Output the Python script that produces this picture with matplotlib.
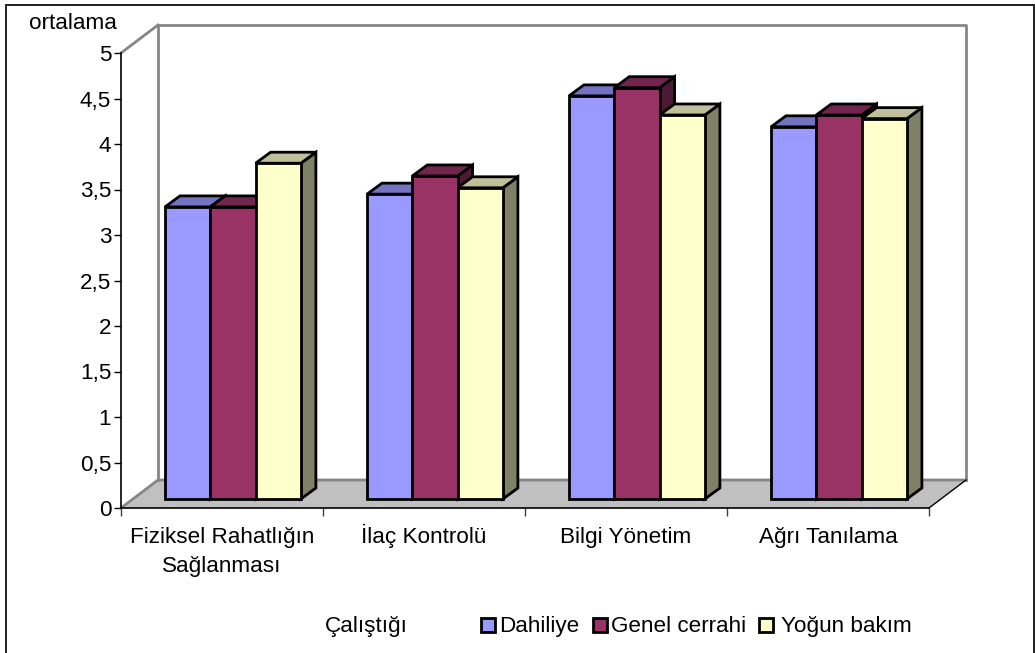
import matplotlib
matplotlib.use('Agg')
import matplotlib.pyplot as plt
from matplotlib.patches import Polygon, Rectangle

plt.rcParams['font.family'] = ['Liberation Sans', 'DejaVu Sans']

kategoriler = ['Fiziksel Rahatlığın\nSağlanması', 'İlaç Kontrolü', 'Bilgi Yönetim', 'Ağrı Tanılama']
seriler = ['Dahiliye', 'Genel cerrahi', 'Yoğun bakım']
dahiliye = [3.21, 3.35, 4.43, 4.09]
genel_cerrahi = [3.21, 3.55, 4.52, 4.22]
yogun_bakim = [3.69, 3.42, 4.22, 4.18]
y_ticks = [0, 0.5, 1, 1.5, 2, 2.5, 3, 3.5, 4, 4.5, 5]
y_labels = ['0', '0,5', '1', '1,5', '2', '2,5', '3', '3,5', '4', '4,5', '5']

renk_on = ['#9999FF', '#993366', '#FFFFCC']
renk_ust = ['#7373BF', '#73264D', '#BFBF99']
renk_yan = ['#4D4D80', '#4D1A33', '#808066']

W, H = 1035, 653
FS = 16.2
fig = plt.figure(figsize=(W / 100, H / 100), dpi=100)

# pixel sinirlari
x0, x1, y0, y1 = 121, 929, 508, 53
ax = fig.add_axes([x0 / W, 1 - y0 / H, (x1 - x0) / W, (y0 - y1) / H])
ax.set_xlim(0, 4)
ax.set_ylim(0, 5)
ax.patch.set_visible(False)
px_x = 4 / (x1 - x0)
px_y = 5 / (y0 - y1)


def poly(noktalar, **kw):
    ax.add_patch(Polygon(noktalar, closed=True, clip_on=False, **kw))


# duvarlar ve zemin
dx, dy = 37 * px_x, 28 * px_y
gri = '#868686'
poly([(0, 0), (dx, dy), (4 + dx, dy), (4, 0)], facecolor='#C0C0C0', edgecolor='none', zorder=1)
ax.plot([dx, dx, 4 + dx, 4 + dx], [dy, 5 + dy, 5 + dy, dy], color=gri, lw=2, clip_on=False, zorder=2)
ax.plot([0, dx], [5, 5 + dy], color=gri, lw=2, clip_on=False, zorder=2)
ax.plot([0, dx, 4 + dx], [0, dy, dy], color=gri, lw=2, clip_on=False, zorder=2)
ax.plot([4, 4 + dx], [0, dy], color='black', lw=1, clip_on=False, zorder=2)

# cubuklar
genislik = 45.3 * px_x
bas = 44 * px_x
taban = 9 * px_y
derin_x, derin_y = 15 * px_x, 11 * px_y
z = 3
for i in range(len(kategoriler)):
    sol = i + bas
    for j, degerler in enumerate([dahiliye, genel_cerrahi, yogun_bakim]):
        l = sol + j * genislik
        r = l + genislik
        ust = taban + degerler[i]
        stil = dict(edgecolor='black', linewidth=2, joinstyle='miter', zorder=z)
        poly([(r, taban), (r + derin_x, taban + derin_y), (r + derin_x, ust + derin_y), (r, ust)],
             facecolor=renk_yan[j], **stil)
        poly([(l, ust), (l + derin_x, ust + derin_y), (r + derin_x, ust + derin_y), (r, ust)],
             facecolor=renk_ust[j], **stil)
        ax.add_patch(Rectangle((l, taban), genislik, degerler[i], facecolor=renk_on[j],
                               clip_on=False, **stil))
        z += 1

for s in ['top', 'right']:
    ax.spines[s].set_visible(False)
ax.spines['left'].set_linewidth(1.2)
ax.spines['bottom'].set_linewidth(1.2)
ax.set_yticks(y_ticks)
ax.set_yticklabels(y_labels, fontsize=FS, color='black')
ax.tick_params(axis='y', length=5, width=1, pad=2)
ax.set_xticks([0, 1, 2, 3, 4])
ax.set_xticklabels([])
ax.tick_params(axis='x', length=6, width=1, color='#404040')

# kategori yazilari satir satir, ayni taban cizgisinde
for i, ad in enumerate(kategoriler):
    for k, satir in enumerate(ad.split('\n')):
        ax.annotate(satir, (i + 0.5, 0), xytext=(0, -(35 + 29 * k)), textcoords='offset pixels',
                    ha='center', va='baseline', fontsize=FS, annotation_clip=False)

# dis cerceve, alt kenari sayfanin disinda kalir
fig.add_artist(Rectangle((6 / W, 1 - 660 / H), 1028 / W, 655 / H, transform=fig.transFigure,
                         facecolor='none', edgecolor='#202020', lw=1.4))

fig.text(29 / W, 1 - 29 / H, 'ortalama', fontsize=FS, va='baseline', ha='left')
fig.text(324.5 / W, 1 - 632 / H, 'Çalıştığı', fontsize=FS, va='baseline', ha='left')

# gosterge
kutu_x = [481, 593, 759]
yazi_x = [499, 611, 781]
for j, ad in enumerate(seriler):
    fig.add_artist(Rectangle((kutu_x[j] / W, 1 - 632 / H), 14 / W, 14 / H, transform=fig.transFigure,
                             facecolor=renk_on[j], edgecolor='black', lw=2))
    fig.text(yazi_x[j] / W, 1 - 632 / H, ad, fontsize=FS, va='baseline', ha='left')

fig.savefig('out.png', dpi=100)
